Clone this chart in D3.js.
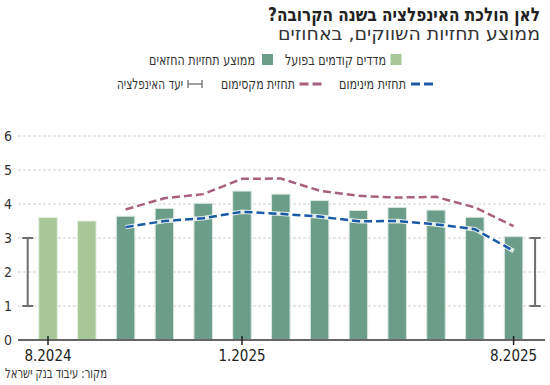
<!DOCTYPE html>
<html>
<head>
<meta charset="utf-8">
<script src="https://cdn.jsdelivr.net/npm/d3@7"></script>
<style>
  body { margin: 0; background: #fff; }
  svg { display: block; font-family: "Liberation Sans Narrow", "DejaVu Sans Condensed", sans-serif; }
</style>
</head>
<body>
<div id="chart"></div>
<script>
// months on the x axis
let months = ["8.2024","9.2024","10.2024","11.2024","12.2024","1.2025","2.2025",
              "3.2025","4.2025","5.2025","6.2025","7.2025","8.2025"]
let tickMonths = ["8.2024","1.2025","8.2025"]
let yTicks = [0,1,2,3,4,5,6]

// previous actual CPI readings (first two months)
let actualMonths = ["8.2024","9.2024"]
let actualValues = [3.6, 3.5]

// forecasters average, min and max (from 10.2024 on)
let forecastMonths = months.slice(2)
let forecastAvg = [3.64, 3.87, 4.02, 4.38, 4.29, 4.10, 3.81, 3.90, 3.82, 3.61, 3.04]
let forecastMax = [3.84, 4.17, 4.29, 4.74, 4.75, 4.39, 4.24, 4.19, 4.21, 3.90, 3.35]
let forecastMin = [3.32, 3.50, 3.58, 3.77, 3.71, 3.63, 3.49, 3.50, 3.40, 3.26, 2.62]

// inflation target range
let targetRange = [1, 3]

const RLM = "\u200F"
const lightGreen = "#a7c899",
      darkGreen = "#6b9d8a",
      pink = "#a8607f",
      blue = "#1a5aa6",
      gray = "#6e6e6e"

let width = 550, height = 385

let svg = d3.select("#chart").append("svg")
    .attr("width", width)
    .attr("height", height)

let x = d3.scalePoint()
    .domain(months)
    .range([48, 513.6])

let y = d3.scaleLinear()
    .domain([0, 6])
    .range([340, 136])

let barW = 18.5
let gridLeft = 18, gridRight = 545

// hebrew text, right aligned, squeezed to the width it has in the print layout
function hebText(parent, xr, yy, size, w, label){
    return parent.append("text")
        .attr("x", xr)
        .attr("y", yy)
        .attr("text-anchor", "end")
        .attr("font-size", size)
        .attr("textLength", w)
        .attr("lengthAdjust", "spacingAndGlyphs")
        .text(label + RLM)
}

// title + subtitle
hebText(svg, 540, 20.5, 19, 272, "לאן הולכת האינפלציה בשנה הקרובה?")
    .attr("font-weight", "bold")
    .attr("fill", "#222")

hebText(svg, 540, 40, 18, 262, "ממוצע תחזיות השווקים, באחוזים")
    .attr("fill", "#333")

// legend
let legend = svg.append("g").attr("fill", "#333")

legend.append("rect").attr("x", 390.5).attr("y", 54).attr("width", 11).attr("height", 11).attr("fill", lightGreen)
hebText(legend, 386, 65, 15, 101, "מדדים קודמים בפועל")
legend.append("rect").attr("x", 262).attr("y", 54).attr("width", 11).attr("height", 11).attr("fill", darkGreen)
hebText(legend, 255, 65, 15, 106, "ממוצע תחזיות החזאים")

function legendDash(x0, yy, color){
    legend.append("line")
        .attr("x1", x0).attr("x2", x0 + 22)
        .attr("y1", yy).attr("y2", yy)
        .attr("stroke", color)
        .attr("stroke-width", 3)
        .attr("stroke-dasharray", "9,4")
}
legendDash(411, 84, blue)
hebText(legend, 406, 89, 15, 67, "תחזית מינימום")
legendDash(299.5, 84, pink)
hebText(legend, 295, 89, 15, 74, "תחזית מקסימום")

legend.append("line").attr("x1", 188).attr("x2", 202).attr("y1", 84).attr("y2", 84).attr("stroke", gray).attr("stroke-width", 1.3)
legend.append("line").attr("x1", 188).attr("x2", 188).attr("y1", 80).attr("y2", 88).attr("stroke", gray).attr("stroke-width", 1.3)
legend.append("line").attr("x1", 202).attr("x2", 202).attr("y1", 80).attr("y2", 88).attr("stroke", gray).attr("stroke-width", 1.3)
hebText(legend, 183, 89, 15, 66, "יעד האינפלציה")

// gridlines
svg.selectAll(".grid")
    .data(yTicks.filter(d => d > 0))
    .enter()
    .append("line")
    .attr("class", "grid")
    .attr("x1", gridLeft)
    .attr("x2", gridRight)
    .attr("y1", d => y(d))
    .attr("y2", d => y(d))
    .attr("stroke", "#cfcfcf")
    .attr("stroke-width", 1)
    .attr("stroke-dasharray", "3,2")

// y labels
svg.selectAll(".ylab")
    .data(yTicks)
    .enter()
    .append("text")
    .attr("class", "ylab")
    .attr("x", 8)
    .attr("y", d => y(d) + 5)
    .attr("text-anchor", "middle")
    .attr("font-size", 14)
    .attr("fill", "#333")
    .text(d => d)

// bars
svg.selectAll(".bar-actual")
    .data(actualMonths.map((m, i) => ({m: m, v: actualValues[i]})))
    .enter()
    .append("rect")
    .attr("x", d => x(d.m) - barW / 2)
    .attr("y", d => y(d.v))
    .attr("width", barW)
    .attr("height", d => y(0) - y(d.v))
    .attr("fill", lightGreen)
    .attr("stroke", "#e4eedf")
    .attr("stroke-width", 1)

svg.selectAll(".bar-fc")
    .data(forecastMonths.map((m, i) => ({m: m, v: forecastAvg[i]})))
    .enter()
    .append("rect")
    .attr("x", d => x(d.m) - barW / 2)
    .attr("y", d => y(d.v))
    .attr("width", barW)
    .attr("height", d => y(0) - y(d.v))
    .attr("fill", darkGreen)
    .attr("stroke", "#dbe8e1")
    .attr("stroke-width", 1)

// min / max lines
function drawLine(values, color){
    let line = d3.line()
        .x((d, i) => x(forecastMonths[i]))
        .y(d => y(d))
    svg.append("path")
        .attr("d", line(values))
        .attr("fill", "none")
        .attr("stroke", "#fff")
        .attr("stroke-opacity", 0.8)
        .attr("stroke-width", 4.5)
    svg.append("path")
        .attr("d", line(values))
        .attr("fill", "none")
        .attr("stroke", color)
        .attr("stroke-width", 2.5)
        .attr("stroke-dasharray", "8,4")
}
drawLine(forecastMax, pink)
drawLine(forecastMin, blue)

// target range brackets
let bracketX = [x(months[0]) - 20.3, x(months[months.length - 1]) + 21.5]
bracketX.forEach(function(bx){
    let g = svg.append("g").attr("stroke", gray).attr("stroke-width", 2)
    g.append("line").attr("x1", bx).attr("x2", bx).attr("y1", y(targetRange[0])).attr("y2", y(targetRange[1]))
    g.append("line").attr("x1", bx - 5.5).attr("x2", bx + 5.5).attr("y1", y(targetRange[0])).attr("y2", y(targetRange[0]))
    g.append("line").attr("x1", bx - 5.5).attr("x2", bx + 5.5).attr("y1", y(targetRange[1])).attr("y2", y(targetRange[1]))
})

// x axis
svg.append("line")
    .attr("x1", gridLeft)
    .attr("x2", gridRight)
    .attr("y1", y(0))
    .attr("y2", y(0))
    .attr("stroke", "#666")
    .attr("stroke-width", 2)

svg.selectAll(".xtick")
    .data(tickMonths)
    .enter()
    .append("line")
    .attr("x1", d => x(d))
    .attr("x2", d => x(d))
    .attr("y1", y(0) - 4)
    .attr("y2", y(0) + 5)
    .attr("stroke", "#222")
    .attr("stroke-width", 1.5)

svg.selectAll(".xlab")
    .data(tickMonths)
    .enter()
    .append("text")
    .attr("x", d => x(d))
    .attr("y", 361)
    .attr("text-anchor", "middle")
    .attr("font-size", 15)
    .attr("fill", "#222")
    .text(d => d)

// source
hebText(svg, 107, 378, 14, 102, "מקור: עיבוד בנק ישראל")
    .attr("fill", "#333")
</script>
</body>
</html>
